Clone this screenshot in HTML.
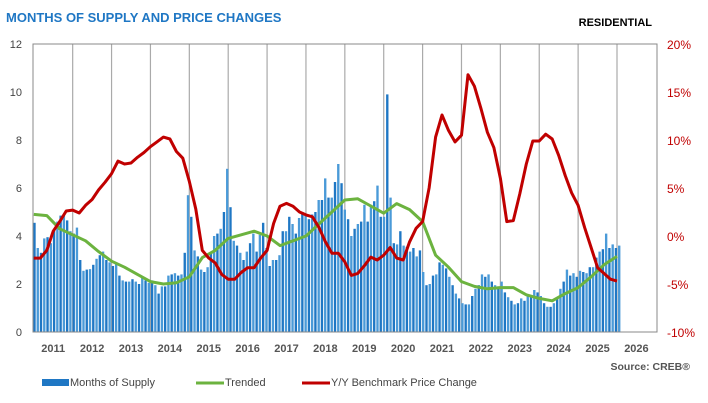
<!DOCTYPE html>
<html><head><meta charset="utf-8"><style>
body{margin:0;background:#fff;width:708px;height:403px;overflow:hidden;font-family:"Liberation Sans",Arial,sans-serif}
svg{display:block}
</style></head><body>
<svg id="chart" width="708" height="403" xmlns="http://www.w3.org/2000/svg" font-family="Liberation Sans, Arial, sans-serif">
<text x="6" y="22" font-size="13" font-weight="bold" fill="#1f77c4">MONTHS OF SUPPLY AND PRICE CHANGES</text>
<text x="652" y="26" font-size="11" font-weight="bold" fill="#000" text-anchor="end">RESIDENTIAL</text>
<g id="grid"></g>
<g id="bars"></g>
<g id="lines"></g>
<rect x="33" y="44" width="624" height="288" fill="none" stroke="#888" stroke-width="1"/>
<g id="axes"></g>
<text x="690" y="370" font-size="10.5" font-weight="bold" fill="#555" text-anchor="end">Source: CREB®</text>
<g>
 <g><rect x="42" y="379" width="27" height="7" fill="#1f77c4"/><text x="70" y="386" font-size="11" fill="#444">Months of Supply</text></g>
 <g><line x1="196" y1="383" x2="224" y2="383" stroke="#6cb33f" stroke-width="3"/><text x="225" y="386" font-size="11" fill="#444">Trended</text></g>
 <g><line x1="302" y1="383" x2="330" y2="383" stroke="#c00000" stroke-width="3"/><text x="331" y="386" font-size="11" fill="#444">Y/Y Benchmark Price Change</text></g>
</g>
</svg>
<script>
const supply = [4.55,3.5,3.3,3.9,3.95,3.7,4.3,4.6,4.85,4.85,4.65,4.2,4.1,4.35,3.0,2.55,2.6,2.62,2.8,3.05,3.2,3.35,3.0,2.9,2.75,2.85,2.35,2.15,2.1,2.1,2.2,2.1,2.0,2.3,2.15,2.05,2.15,1.95,1.6,1.9,1.9,2.35,2.4,2.45,2.35,2.4,3.3,
5.7,4.8,3.4,3.15,2.6,2.5,2.7,3.3,4.0,4.1,4.3,5.0,6.8,5.2,3.8,3.6,3.3,3.0,3.35,3.7,4.1,3.35,4.05,4.55,3.5,2.75,3.0,3.0,3.2,4.2,4.2,4.8,4.5,4.1,4.75,5.0,4.9,4.7,4.9,5.0,5.5,5.5,6.4,5.6,5.6,6.25,
7.0,6.2,5.1,4.7,4.0,4.3,4.5,4.6,5.3,4.6,5.3,5.45,6.1,4.8,4.8,9.9,5.6,3.7,3.65,4.2,3.6,3.55,3.35,3.5,3.15,3.4,2.5,1.95,2.0,2.35,2.4,2.9,2.8,2.65,2.3,1.95,1.6,1.4,1.2,1.15,1.15,1.5,1.8,1.95,2.4,2.3,2.4,2.1,1.95,1.9,
2.1,1.65,1.45,1.3,1.15,1.2,1.4,1.3,1.5,1.5,1.75,1.65,1.5,1.2,1.05,1.05,1.2,1.45,1.8,2.1,2.6,2.35,2.45,2.3,2.55,2.5,2.45,2.7,2.7,3.1,3.35,3.45,4.1,3.5,3.65,3.5,3.6];
// trended: one value every 4 months from Jan 2011
const trended = [4.9,4.85,4.3,4.05,3.8,3.35,2.95,2.7,2.4,2.1,2.0,2.05,2.3,3.1,3.4,3.9,4.05,4.2,4.0,3.6,3.8,4.0,4.5,5.0,5.5,5.55,5.25,4.95,5.35,5.1,4.6,3.2,2.7,2.1,1.9,1.8,1.85,1.85,1.55,1.4,1.3,1.6,1.85,2.3,2.8,3.15];
// y/y price change (%): one value every 2 months from Jan 2011
const yoy = [-2.3,-2.3,-1.5,0.5,1.5,2.6,2.7,2.4,3.2,3.8,4.8,5.6,6.5,7.8,7.5,7.6,8.2,8.7,9.3,9.8,10.3,10.1,8.8,8.1,5.7,2.8,-1.5,-2.3,-2.8,-4.0,-4.5,-4.5,-3.8,-3.3,-3.3,-2.3,-1.5,1.3,3.1,3.4,3.1,2.5,2.2,2.0,0.9,-0.6,-1.8,-1.8,-2.7,-4.1,-3.9,-3.1,-2.2,-2.5,-2.0,-1.2,-2.3,-2.5,-0.6,0.8,1.5,5.0,10.3,12.6,11.0,9.8,10.5,16.8,15.6,13.3,10.8,9.2,6.0,1.5,1.6,4.4,7.5,9.9,9.9,10.6,10.1,8.4,6.3,4.5,3.2,0.9,-1.2,-3.3,-3.9,-4.5,-4.7];
const years = ["2011","2012","2013","2014","2015","2016","2017","2018","2019","2020","2021","2022","2023","2024","2025","2026"];
const leftTicks = [0,2,4,6,8,10,12];
const rightTicks = [-10,-5,0,5,10,15,20];

const NS="http://www.w3.org/2000/svg";
const X0=33.8, MW=3.24, TOP=44, BOT=332;
const yL=v=>BOT-(v/12)*(BOT-TOP);
const yR=v=>BOT-((v+10)/30)*(BOT-TOP);
const xM=m=>X0+m*MW;
const barStep=(621-33)/supply.length;
const xBar=i=>33+i*barStep;
function mk(tag,attrs,parent){const e=document.createElementNS(NS,tag);for(const k in attrs)e.setAttribute(k,attrs[k]);parent.appendChild(e);return e;}

const grid=document.getElementById('grid');
years.forEach((y,i)=>{if(i===0)return;const l=mk('line',{x1:xM(i*12),x2:xM(i*12),y1:TOP,y2:BOT,stroke:'#aaa','stroke-width':1.2},grid);

});

const bars=document.getElementById('bars');
supply.forEach((v,i)=>{const r=mk('rect',{x:xBar(i)+0.3,y:yL(v),width:barStep-0.9,height:BOT-yL(v),fill:i%2?'#4a9ad8':'#1f77c4'},bars);

});

const lines=document.getElementById('lines');
const gp=trended.map((v,i)=>xM(i*4).toFixed(1)+','+yL(v).toFixed(1)).join(' ');
const g=mk('polyline',{points:gp,fill:'none',stroke:'#6cb33f','stroke-width':3,'stroke-linejoin':'round'},lines);


const rp=yoy.map((v,i)=>xM(i*2).toFixed(1)+','+yR(v).toFixed(1)).join(' ');
const r=mk('polyline',{points:rp,fill:'none',stroke:'#c00000','stroke-width':3,'stroke-linejoin':'round'},lines);



const axes=document.getElementById('axes');
leftTicks.forEach(v=>{const t=mk('text',{x:22,y:yL(v)+4,'font-size':11,fill:'#444','text-anchor':'end'},axes);t.textContent=v;

});
rightTicks.forEach(v=>{const t=mk('text',{x:667,y:yR(v)+5,'font-size':12,fill:'#c00000','text-anchor':'start'},axes);t.textContent=v+'%';

});
years.forEach((y,i)=>{const t=mk('text',{x:xM(i*12+6),y:352,'font-size':11,'font-weight':'bold',fill:'#555','text-anchor':'middle'},axes);t.textContent=y;

});
</script>
</body></html>
